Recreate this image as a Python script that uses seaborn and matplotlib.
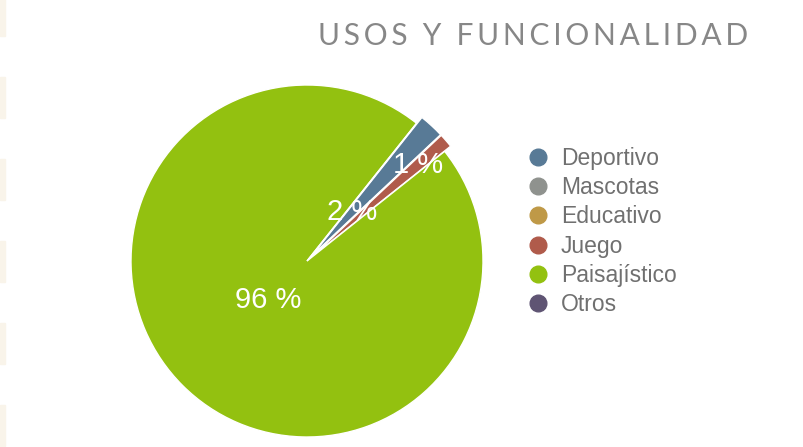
import numpy as np
import matplotlib
matplotlib.use("Agg")
import matplotlib.pyplot as plt
from matplotlib.lines import Line2D
import seaborn as sns

# data
categories = ["Deportivo", "Mascotas", "Educativo", "Juego", "Paisajístico", "Otros"]
values = [2.3, 0.0, 0.0, 1.3, 96.4, 0.0]
colors = ["#587a96", "#8f928e", "#bf9947", "#b05b4b", "#93c110", "#5f5473"]
label_radius = [0.33, 0.0, 0.0, 0.79, 0.31, 0.0]
explode = [0.045, 0, 0, 0.045, 0, 0]

sns.set_style("white")
plt.rcParams["font.family"] = ["Liberation Sans", "DejaVu Sans"]

fig = plt.figure(figsize=(8.04, 4.47), dpi=100)
fig.patch.set_facecolor("white")

# faint page stripes on the left edge
for i in range(6):
    top = 36 + i * 82 - 41
    fig.patches.append(plt.Rectangle((0, 1 - (top + 41) / 447), 5 / 804, 41 / 447,
                                     transform=fig.transFigure, color="#f9f4ea", zorder=0))

R = 176
cx, cy = 307, 447 - 261
ax = fig.add_axes([(cx - 1.1 * R) / 804, (cy - 1.1 * R) / 447, 2.2 * R / 804, 2.2 * R / 447])

wedges, _ = ax.pie(values, colors=colors, startangle=51.5, counterclock=False,
                   explode=explode, radius=1,
                   wedgeprops=dict(edgecolor="white", linewidth=1))
ax.set_xlim(-1.1, 1.1)
ax.set_ylim(-1.1, 1.1)
ax.axis("off")

total = sum(values)
for w, v, r in zip(wedges, values, label_radius):
    if v <= 0:
        continue
    mid = np.deg2rad((w.theta1 + w.theta2) / 2)
    x0, y0 = w.center
    ax.text(x0 + r * np.cos(mid), y0 + r * np.sin(mid), f"{round(v / total * 100):.0f} %",
            color="white", fontsize=21, ha="center", va="center")

handles = [Line2D([0], [0], marker="o", linestyle="", markersize=12,
                  markerfacecolor=c, markeredgecolor=c) for c in colors]
fig.legend(handles, categories, loc="center left", bbox_to_anchor=(529 / 804, 1 - 231.5 / 447),
           frameon=False, fontsize=16.5, labelcolor="#707070", handlelength=0.8,
           handletextpad=0.6, labelspacing=0.27, borderpad=0, borderaxespad=0)

title = "\u2009".join("USOS Y FUNCIONALIDAD")
fig.text(748 / 804, 1 - 45 / 447, title, ha="right", va="baseline", fontsize=21.5,
         color="#878787", family=["Lato", "DejaVu Sans"])

fig.savefig("out.png", dpi=100)
